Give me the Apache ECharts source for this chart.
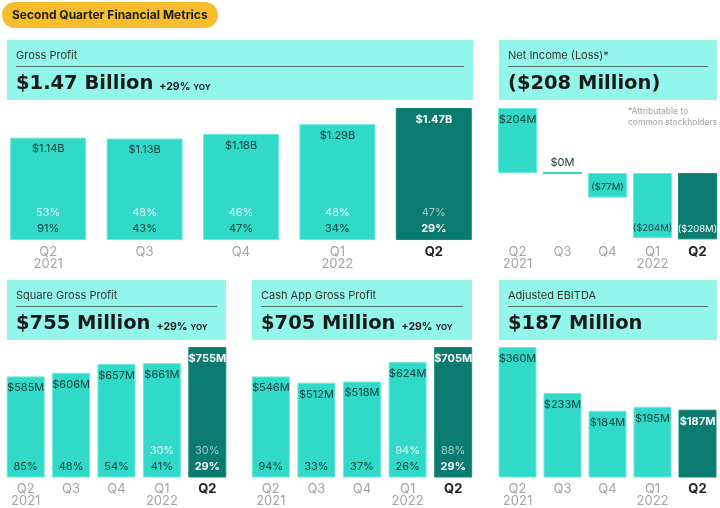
<!DOCTYPE html>
<html>
<head>
<meta charset="utf-8">
<script src="https://cdn.jsdelivr.net/npm/echarts@6/dist/echarts.min.js"></script>
<style>
  html, body { margin: 0; padding: 0; background: #fff; }
  #chart { width: 720px; height: 508px; }
</style>
</head>
<body>
<div id="chart"></div>
<script>
  // quarter labels
  const quarters = ['Q2\n2021', 'Q3', 'Q4', 'Q1\n2022', 'Q2']

  // gross profit ($B) and the two % lines printed inside each bar
  const grossProfit = [1.14, 1.13, 1.18, 1.29, 1.47]
  const grossPctTop = [53, 48, 46, 48, 47]
  const grossPctBottom = [91, 43, 47, 34, 29]

  // net income ($M)
  const netIncome = [204, 0, -77, -204, -208]

  // square gross profit ($M)
  const squareGP = [585, 606, 657, 661, 755]
  const squarePctTop = [null, null, null, 30, 30]
  const squarePctBottom = [85, 48, 54, 41, 29]

  // cash app gross profit ($M)
  const cashGP = [546, 512, 518, 624, 705]
  const cashPctTop = [null, null, null, 94, 88]
  const cashPctBottom = [94, 33, 37, 26, 29]

  // adjusted ebitda ($M)
  const ebitda = [360, 233, 184, 195, 187]

  const FONT = 'Inter, "Noto Sans", sans-serif'
  const WIDE = '"DejaVu Sans", sans-serif'
  const LIGHT = '#30d9c8'
  const DARK = '#0b7a6f'
  const HEAD = '#93f6ea'

  const fmtB = v => '$' + v.toFixed(2) + 'B'
  const fmtM = v => v < 0 ? '($' + Math.abs(v) + 'M)' : '$' + v + 'M'

  function barData(values) {
    return values.map((v, i) => ({
      value: v,
      itemStyle: i === 4
        ? { color: DARK, borderColor: '#13897d', borderWidth: 1 }
        : { color: LIGHT, borderColor: '#6ae9dc', borderWidth: 1 }
    }))
  }

  function valueSeries(idx, values, fmt, width) {
    return {
      type: 'bar',
      xAxisIndex: idx,
      yAxisIndex: idx,
      barWidth: width,
      barGap: '-100%',
      data: barData(values),
      label: {
        show: true,
        position: 'insideTop',
        distance: 6,
        fontFamily: FONT,
        fontSize: 11,
        formatter: p => fmt(p.value),
        color: '#17403b'
      }
    }
  }

  function pctSeries(idx, values, top, bottom, width) {
    return {
      type: 'bar',
      xAxisIndex: idx,
      yAxisIndex: idx,
      barWidth: width,
      barGap: '-100%',
      silent: true,
      z: 5,
      itemStyle: { color: 'transparent' },
      data: values.map((v, i) => ({
        value: v,
        label: {
          formatter: (top[i] != null ? (i === 4 ? '{d|' : '{a|') + top[i] + '%}\n' : '')
            + (i === 4 ? '{w|' : '{b|') + bottom[i] + '%}'
        }
      })),
      label: {
        show: true,
        position: 'insideBottom',
        distance: 3,
        fontFamily: FONT,
        rich: {
          a: { color: '#e8fffb', fontSize: 11, lineHeight: 16, fontFamily: FONT },
          b: { color: '#17403b', fontSize: 11, lineHeight: 16, fontFamily: FONT },
          d: { color: '#9ccdc6', fontSize: 11, lineHeight: 16, fontFamily: FONT },
          w: { color: '#ffffff', fontSize: 11, lineHeight: 16, fontWeight: 'bold', fontFamily: FONT }
        }
      }
    }
  }

  const grids = [
    { left: -4, top: 108, width: 486, height: 132 },
    { left: 495, top: 108, width: 226, height: 132 },
    { left: 3, top: 347, width: 227, height: 132 },
    { left: 248, top: 347, width: 228, height: 132 },
    { left: 495, top: 347, width: 227, height: 132 }
  ]
  const yRanges = [[0, 1.47], [-210, 204], [0, 755], [0, 705], [0, 360]]

  const xAxes = grids.map((g, i) => ({
    type: 'category',
    gridIndex: i,
    data: quarters,
    axisLine: { show: false },
    axisTick: { show: false },
    axisLabel: {
      margin: 6,
      interval: 0,
      formatter: (v, k) => k === 4
        ? '{c|' + v + '}'
        : v.split('\n').map(s => '{q|' + s + '}').join('\n'),
      rich: {
        q: { color: '#a3a3a3', fontSize: 13, lineHeight: 12, fontFamily: FONT },
        c: { color: '#222222', fontSize: 13, lineHeight: 12, fontWeight: 'bold', fontFamily: FONT }
      }
    }
  }))
  // net income axis labels sit at the bottom of the panel, not at zero
  xAxes[1].axisLine.onZero = false

  const yAxes = yRanges.map((r, i) => ({
    type: 'value',
    gridIndex: i,
    min: r[0],
    max: r[1],
    show: false
  }))

  // header panels
  function header(x, y, w, title, big, yoy) {
    return [
      { type: 'rect', shape: { x: x, y: y, width: w, height: 60 }, style: { fill: HEAD } },
      { type: 'text', x: x + 9, y: y + 16, style: { text: title, fontFamily: FONT, fontSize: 11, fill: '#333', verticalAlign: 'middle' } },
      { type: 'line', shape: { x1: x + 9, y1: y + 26.5, x2: x + w - 9, y2: y + 26.5 }, style: { stroke: '#4d6e6a', lineWidth: 1 } },
      {
        type: 'text', x: x + 9, y: y + 54,
        style: {
          text: '{b|' + big + '}' + (yoy ? '{p|' + yoy + '}{y|YOY}' : ''),
          verticalAlign: 'bottom',
          rich: {
            b: { fontFamily: WIDE, fontSize: 19.5, fontWeight: 'bold', fill: '#1a1a1a', verticalAlign: 'bottom' },
            p: { fontFamily: FONT, fontSize: 10.5, fontWeight: 'bold', fill: '#1a1a1a', verticalAlign: 'bottom', padding: [0, 3, 2, 6] },
            y: { fontFamily: FONT, fontSize: 8, fontWeight: 'bold', fill: '#1a1a1a', verticalAlign: 'bottom', padding: [0, 0, 2, 0] }
          }
        }
      }
    ]
  }

  const graphic = [
    { type: 'rect', shape: { x: 2, y: 2, width: 216, height: 26, r: 13 }, style: { fill: '#f7bd2d' } },
    { type: 'text', x: 12, y: 15, style: { text: 'Second Quarter Financial Metrics', fontFamily: FONT, fontSize: 12, fontWeight: 'bold', fill: '#1c1c1c', verticalAlign: 'middle' } },
    ...header(7, 40, 466, 'Gross Profit', '$1.47 Billion', '+29%'),
    ...header(499, 40, 218, 'Net Income (Loss)*', '($208 Million)'),
    ...header(7, 280, 219, 'Square Gross Profit', '$755 Million', '+29%'),
    ...header(252, 280, 220, 'Cash App Gross Profit', '$705 Million', '+29%'),
    ...header(499, 280, 218, 'Adjusted EBITDA', '$187 Million'),
    { type: 'text', x: 628, y: 106, style: { text: '*Attributable to\ncommon stockholders', fontFamily: FONT, fontSize: 8.5, lineHeight: 11, fill: '#a3a3a3' } }
  ]

  function withWhiteLast(s) {
    s.data.forEach((d, i) => {
      if (i === 4) d.label = Object.assign({}, d.label, { color: '#ffffff', fontWeight: 'bold' })
    })
    return s
  }

  // net income bars: label placement depends on sign
  const netSeries = valueSeries(1, netIncome, fmtM, 39)
  netSeries.data = barData(netIncome).map((d, i) => {
    const v = netIncome[i]
    if (v === 0) {
      d.itemStyle = { color: LIGHT, borderColor: LIGHT, borderWidth: 2 }
      d.label = { position: 'top', distance: 4 }
    } else if (v < 0) {
      d.label = { position: 'insideBottom', distance: 5, fontSize: 9.5, color: i === 4 ? '#ffffff' : '#17403b' }
    } else {
      d.label = { position: 'insideTop' }
    }
    return d
  })

  const chart = echarts.init(document.getElementById('chart'), null, { renderer: 'canvas' })
  chart.setOption({
    animation: false,
    backgroundColor: '#ffffff',
    textStyle: { fontFamily: FONT },
    grid: grids,
    xAxis: xAxes,
    yAxis: yAxes,
    graphic: graphic,
    series: [
      withWhiteLast(valueSeries(0, grossProfit, fmtB, 76)),
      pctSeries(0, grossProfit, grossPctTop, grossPctBottom, 76),
      netSeries,
      withWhiteLast(valueSeries(2, squareGP, fmtM, 38)),
      pctSeries(2, squareGP, squarePctTop, squarePctBottom, 38),
      withWhiteLast(valueSeries(3, cashGP, fmtM, 38)),
      pctSeries(3, cashGP, cashPctTop, cashPctBottom, 38),
      withWhiteLast(valueSeries(4, ebitda, fmtM, 38))
    ]
  })
</script>
</body>
</html>
